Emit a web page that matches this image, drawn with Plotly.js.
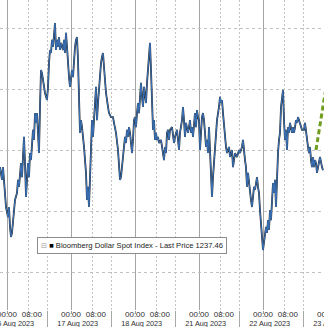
<!DOCTYPE html>
<html><head><meta charset="utf-8">
<script src="https://cdn.plot.ly/plotly-3.0.1.min.js"></script>
<style>html,body{margin:0;padding:0;overflow:hidden;background:#fff;width:324px;height:327px}#chart{width:340px;height:327px}</style>
</head><body><div id="chart"></div>
<script>
// Bloomberg Dollar Spot Index, intraday
const times = [
"2023-08-15 21:22:30","2023-08-15 22:07:30","2023-08-15 22:30","2023-08-15 23:15","2023-08-15 23:37:30",
"2023-08-16 00:22:30","2023-08-16 00:45","2023-08-16 01:07:30","2023-08-16 01:30","2023-08-16 01:52:30","2023-08-16 02:15","2023-08-16 02:37:30","2023-08-16 03:00","2023-08-16 03:45","2023-08-16 04:07:30","2023-08-16 04:30","2023-08-16 04:52:30","2023-08-16 05:15","2023-08-16 05:37:30","2023-08-16 06:00","2023-08-16 06:22:30","2023-08-16 06:45","2023-08-16 07:07:30","2023-08-16 07:30","2023-08-16 07:52:30","2023-08-16 08:15","2023-08-16 08:37:30","2023-08-16 09:00","2023-08-16 09:22:30","2023-08-16 09:45","2023-08-16 10:07:30","2023-08-16 10:30","2023-08-16 10:52:30","2023-08-16 11:15","2023-08-16 11:37:30","2023-08-16 12:00","2023-08-16 12:22:30","2023-08-16 12:45","2023-08-16 13:07:30","2023-08-16 13:30","2023-08-16 14:15","2023-08-16 15:00","2023-08-16 15:22:30","2023-08-16 15:45","2023-08-16 16:07:30","2023-08-16 16:30","2023-08-16 16:52:30","2023-08-16 17:15","2023-08-16 17:37:30","2023-08-16 18:00","2023-08-16 18:22:30","2023-08-16 18:45","2023-08-16 19:07:30","2023-08-16 19:30","2023-08-16 19:52:30","2023-08-16 20:15","2023-08-16 21:00","2023-08-16 21:22:30","2023-08-16 21:45","2023-08-16 22:07:30","2023-08-16 22:30","2023-08-16 22:52:30","2023-08-16 23:15","2023-08-16 23:37:30",
"2023-08-17 00:00","2023-08-17 00:22:30","2023-08-17 00:45","2023-08-17 01:07:30","2023-08-17 01:30","2023-08-17 01:52:30","2023-08-17 02:15","2023-08-17 02:37:30","2023-08-17 03:00","2023-08-17 03:22:30","2023-08-17 03:45","2023-08-17 04:07:30","2023-08-17 04:52:30","2023-08-17 05:37:30","2023-08-17 06:00","2023-08-17 06:22:30","2023-08-17 06:45","2023-08-17 07:07:30","2023-08-17 07:30","2023-08-17 07:52:30","2023-08-17 08:15","2023-08-17 08:37:30","2023-08-17 09:00","2023-08-17 09:22:30","2023-08-17 09:45","2023-08-17 10:07:30","2023-08-17 10:30","2023-08-17 10:52:30","2023-08-17 11:15","2023-08-17 11:37:30","2023-08-17 12:00","2023-08-17 12:22:30","2023-08-17 12:45","2023-08-17 13:07:30","2023-08-17 13:52:30","2023-08-17 14:15","2023-08-17 15:00","2023-08-17 15:45","2023-08-17 16:07:30","2023-08-17 16:52:30","2023-08-17 17:37:30","2023-08-17 18:00","2023-08-17 18:22:30","2023-08-17 18:45","2023-08-17 19:07:30","2023-08-17 19:30","2023-08-17 19:52:30","2023-08-17 20:15","2023-08-17 20:37:30","2023-08-17 21:00","2023-08-17 21:22:30","2023-08-17 21:45","2023-08-17 22:07:30","2023-08-17 22:30","2023-08-17 22:52:30","2023-08-17 23:15","2023-08-17 23:37:30",
"2023-08-18 00:00","2023-08-18 00:22:30","2023-08-18 00:45","2023-08-18 01:07:30","2023-08-18 01:30","2023-08-18 01:52:30","2023-08-18 02:15","2023-08-18 02:37:30","2023-08-18 03:00","2023-08-18 03:22:30","2023-08-18 03:45","2023-08-18 04:07:30","2023-08-18 04:30","2023-08-18 04:52:30","2023-08-18 05:15","2023-08-18 05:37:30","2023-08-18 06:00","2023-08-18 06:22:30","2023-08-18 06:45","2023-08-18 07:07:30","2023-08-18 07:30","2023-08-18 07:52:30","2023-08-18 08:15","2023-08-18 08:37:30","2023-08-18 09:00","2023-08-18 09:45","2023-08-18 10:07:30","2023-08-18 10:52:30","2023-08-18 11:15","2023-08-18 11:37:30","2023-08-18 12:00","2023-08-18 12:22:30","2023-08-18 12:45","2023-08-18 13:07:30","2023-08-18 13:52:30","2023-08-18 14:37:30","2023-08-18 15:00","2023-08-18 15:45","2023-08-18 16:30","2023-08-18 16:52:30","2023-08-18 17:37:30","2023-08-18 18:00","2023-08-18 18:22:30","2023-08-18 18:45","2023-08-18 19:07:30","2023-08-18 19:52:30","2023-08-18 20:15","2023-08-18 20:37:30","2023-08-18 21:00","2023-08-18 21:22:30","2023-08-18 21:45","2023-08-18 22:07:30","2023-08-18 22:30","2023-08-18 22:52:30","2023-08-18 23:15","2023-08-18 23:37:30",
"2023-08-21 00:00","2023-08-21 00:22:30","2023-08-21 00:45","2023-08-21 01:07:30","2023-08-21 01:30","2023-08-21 01:52:30","2023-08-21 02:15","2023-08-21 02:37:30","2023-08-21 03:00","2023-08-21 03:22:30","2023-08-21 03:45","2023-08-21 04:07:30","2023-08-21 04:30","2023-08-21 04:52:30","2023-08-21 05:15","2023-08-21 05:37:30","2023-08-21 06:00","2023-08-21 06:22:30","2023-08-21 06:45","2023-08-21 07:30","2023-08-21 07:52:30","2023-08-21 08:15","2023-08-21 08:37:30","2023-08-21 09:00","2023-08-21 09:22:30","2023-08-21 09:45","2023-08-21 10:07:30","2023-08-21 10:30","2023-08-21 11:15","2023-08-21 11:37:30","2023-08-21 12:22:30","2023-08-21 12:45","2023-08-21 13:07:30","2023-08-21 13:30","2023-08-21 14:15","2023-08-21 15:00","2023-08-21 15:22:30","2023-08-21 16:07:30","2023-08-21 16:30","2023-08-21 16:52:30","2023-08-21 17:15","2023-08-21 17:37:30","2023-08-21 18:00","2023-08-21 18:22:30","2023-08-21 18:45","2023-08-21 19:07:30","2023-08-21 19:30","2023-08-21 19:52:30","2023-08-21 20:15","2023-08-21 20:37:30","2023-08-21 21:00","2023-08-21 21:22:30","2023-08-21 21:45","2023-08-21 22:07:30","2023-08-21 22:30","2023-08-21 22:52:30","2023-08-21 23:15","2023-08-21 23:37:30",
"2023-08-22 00:00","2023-08-22 00:22:30","2023-08-22 00:45","2023-08-22 01:07:30","2023-08-22 01:30","2023-08-22 01:52:30","2023-08-22 02:15","2023-08-22 02:37:30","2023-08-22 03:00","2023-08-22 03:22:30","2023-08-22 03:45","2023-08-22 04:07:30","2023-08-22 04:30","2023-08-22 04:52:30","2023-08-22 05:15","2023-08-22 05:37:30","2023-08-22 06:00","2023-08-22 06:22:30","2023-08-22 06:45","2023-08-22 07:07:30","2023-08-22 07:30","2023-08-22 07:52:30","2023-08-22 08:15","2023-08-22 08:37:30","2023-08-22 09:00","2023-08-22 09:22:30","2023-08-22 09:45","2023-08-22 10:07:30","2023-08-22 10:30","2023-08-22 10:52:30","2023-08-22 11:15","2023-08-22 11:37:30","2023-08-22 12:00","2023-08-22 12:22:30","2023-08-22 12:45","2023-08-22 13:07:30","2023-08-22 14:37:30","2023-08-22 15:22:30","2023-08-22 15:45","2023-08-22 16:07:30","2023-08-22 16:30","2023-08-22 16:52:30","2023-08-22 17:15","2023-08-22 17:37:30","2023-08-22 18:00","2023-08-22 18:22:30","2023-08-22 18:45","2023-08-22 19:07:30","2023-08-22 19:30","2023-08-22 19:52:30","2023-08-22 20:15","2023-08-22 20:37:30","2023-08-22 21:00","2023-08-22 21:22:30","2023-08-22 22:07:30","2023-08-22 22:30"
];
const lastPrice = [
1237.44,1237.02,1237.44,1236.69,1236.13,
1235.80,1236.13,1235.48,1235.15,1235.28,1235.70,1235.93,1236.36,1236.59,1237.02,1236.79,1237.25,1237.57,1237.11,1238.10,1238.43,1237.57,1236.46,1237.02,1237.57,1237.11,1237.90,1237.67,1238.33,1238.66,1238.33,1239.21,1238.89,1239.21,1238.56,1237.90,1239.41,1240.62,1240.52,1240.30,1239.87,1239.64,1240.07,1240.85,1241.28,1241.18,1241.61,1241.38,1241.84,1242.16,1241.28,1241.61,1241.38,1241.70,1241.28,1241.51,1241.28,1241.61,1241.18,1241.84,1241.38,1240.72,1240.39,1240.07,
1240.30,1240.62,1240.39,1241.05,1241.38,1241.61,1241.70,1240.95,1239.54,1238.56,1238.98,1238.75,1238.10,1237.25,1236.36,1236.79,1236.13,1237.02,1238.10,1238.98,1238.43,1239.31,1239.54,1240.07,1238.98,1239.54,1240.07,1240.52,1240.85,1241.05,1241.18,1240.72,1240.30,1239.87,1239.41,1239.21,1239.08,1239.08,1238.89,1238.56,1238.00,1237.57,1237.02,1237.11,1237.57,1237.77,1238.10,1238.43,1238.23,1238.66,1238.43,1238.75,1238.56,1238.10,1237.90,1238.33,1238.98,
1239.08,1238.75,1239.21,1239.54,1239.21,1239.97,1240.20,1239.74,1239.41,1240.07,1239.87,1239.54,1240.20,1240.62,1241.18,1241.51,1240.62,1239.54,1238.66,1238.98,1238.33,1238.56,1238.33,1238.43,1238.23,1238.33,1238.10,1237.67,1238.10,1237.90,1238.56,1238.66,1238.33,1238.66,1238.75,1238.23,1238.43,1238.66,1238.00,1238.56,1238.98,1239.41,1238.98,1238.43,1238.89,1238.56,1238.75,1238.98,1238.56,1238.75,1238.43,1238.98,1239.21,1238.75,1239.31,1239.08,
1238.98,1238.00,1238.56,1239.08,1239.21,1238.98,1238.56,1238.10,1238.33,1237.90,1238.75,1238.10,1237.34,1236.46,1237.11,1237.57,1238.10,1238.66,1238.98,1239.41,1239.74,1239.54,1239.64,1239.21,1238.75,1238.33,1238.10,1237.90,1238.10,1237.77,1238.00,1237.44,1237.77,1237.90,1237.77,1238.00,1237.90,1238.10,1238.33,1237.90,1237.67,1237.44,1236.79,1237.25,1236.92,1236.46,1236.36,1236.13,1236.59,1236.79,1236.69,1236.92,1237.11,1236.79,1236.59,1236.03,1235.70,1235.15,
1234.72,1235.05,1235.28,1235.48,1235.28,1235.70,1235.38,1236.03,1235.70,1236.36,1236.92,1236.59,1237.02,1236.13,1237.11,1237.90,1238.33,1238.56,1239.41,1239.74,1239.97,1238.98,1238.33,1238.66,1238.00,1238.75,1238.56,1238.89,1238.66,1238.56,1238.75,1238.56,1238.75,1238.98,1238.89,1239.08,1238.66,1238.66,1238.89,1238.56,1238.33,1238.10,1237.90,1238.10,1237.67,1237.44,1237.77,1237.44,1237.67,1237.57,1237.25,1237.44,1237.67,1237.77,1237.44,1237.34
];
// green dashed "higher" arrow drawn on the chart
const arrowTimes = ["2023-08-22 19:52:30", "2023-08-22 23:37:30"];
const arrowValues = [1238.00, 1240.05];

const days = ["2023-08-16","2023-08-17","2023-08-18","2023-08-21","2023-08-22","2023-08-23"];
const dateLabels = ["16 Aug 2023","17 Aug 2023","18 Aug 2023","21 Aug 2023","22 Aug 2023","23 Aug 2023"];
const hourLabels = ["00:00","08:00"];
const yGrid = [1234, 1236, 1238, 1240, 1242];
const legendText = "Bloomberg Dollar Spot Index - Last Price 1237.46";

const font = {family: '"Liberation Sans", Arial, sans-serif', size: 8, color: '#2e2e2e'};
const dateFont = {family: font.family, size: 7.3, color: '#2e2e2e'};
const rb = [{bounds: ['sat', 'mon']}];
const xRange = ['2023-08-15 21:22:30', '2023-08-23 04:52:30'];

const baseX = {type: 'date', range: xRange, rangebreaks: rb, fixedrange: true, zeroline: false,
  showline: false, tickfont: font, tickmode: 'array', ticklabeloverflow: 'allow'};

// helper traces (invisible) so the overlaid label axes get drawn
const axisCarrier = ax => ({x: times, y: lastPrice, xaxis: ax, yaxis: 'y', type: 'scatter', mode: 'lines',
  line: {width: 0, color: 'rgba(0,0,0,0)'}, opacity: 0, hoverinfo: 'skip', showlegend: false});

const traces = [
  axisCarrier('x2'), axisCarrier('x3'), axisCarrier('x4'),
  {x: times, y: lastPrice, type: 'scatter', mode: 'lines', line: {color: '#2b2b2b', width: 1.8}, hoverinfo: 'skip', showlegend: false},
  {x: times, y: lastPrice, type: 'scatter', mode: 'lines', line: {color: '#3a74bd', width: 1}, hoverinfo: 'skip', showlegend: false},
  {x: arrowTimes, y: arrowValues, type: 'scatter', mode: 'lines', line: {color: '#6f9e1f', width: 3, dash: '5px,3px'}, hoverinfo: 'skip', showlegend: false}
];

const layout = {
  width: 340, height: 327, autosize: false,
  margin: {l: 0, r: 0, t: 0, b: 17, pad: 0},
  paper_bgcolor: '#fff', plot_bgcolor: '#fff',
  showlegend: false,
  xaxis: Object.assign({}, baseX, {
    tickvals: days.map(d => d + ' 00:00'), ticktext: days.map(() => hourLabels[0]),
    showgrid: true, gridcolor: '#a4a4a4', gridwidth: 1,
    ticks: 'outside', ticklen: 2, tickcolor: '#999', ticklabelstandoff: -6,
    minor: {tickmode: 'array', tickvals: days.flatMap(d => [d + ' 08:00', d + ' 15:00']),
      showgrid: true, gridcolor: '#c2c2c2', griddash: '2px,2px', gridwidth: 1,
      ticks: 'outside', ticklen: 2, tickcolor: '#999'}
  }),
  xaxis2: Object.assign({}, baseX, {
    overlaying: 'x', anchor: 'y', side: 'bottom',
    tickvals: days.map(d => d + ' 09:20'), ticktext: days.map(() => hourLabels[1]),
    showgrid: false, ticks: 'outside', ticklen: 2, tickcolor: 'rgba(0,0,0,0)', ticklabelstandoff: -6
  }),
  xaxis3: Object.assign({}, baseX, {
    overlaying: 'x', anchor: 'y', side: 'bottom', tickfont: dateFont,
    tickvals: days.map(d => d + ' 02:30'), ticktext: dateLabels,
    showgrid: false, ticks: 'outside', ticklen: 2, tickcolor: 'rgba(0,0,0,0)', ticklabelstandoff: 4
  }),
  xaxis4: Object.assign({}, baseX, {
    overlaying: 'x', anchor: 'y', side: 'bottom',
    tickvals: days.map(d => d + ' 15:00'), showticklabels: false,
    showgrid: false, ticks: 'outside', ticklen: 17, tickcolor: '#a8a8a8'
  }),
  yaxis: {range: [1232.754, 1242.918], tickmode: 'array', tickvals: yGrid, showticklabels: false,
    showgrid: true, gridcolor: '#c2c2c2', griddash: '3px,3px', zeroline: false, ticks: '', fixedrange: true, showline: false},
  annotations: [{
    xref: 'paper', yref: 'paper', x: 37 / 340, y: 1 - 245 / 310, xanchor: 'left', yanchor: 'middle',
    text: '<span style="color:#a0a0a0;font-size:7px">⊟</span> <span style="color:#000">■</span> ' + legendText,
    showarrow: false, font: {family: font.family, size: 7.6, color: '#222'},
    bgcolor: '#fff', bordercolor: '#8c8c8c', borderwidth: 1, borderpad: 3
  }]
};

Plotly.newPlot('chart', traces, layout, {displayModeBar: false, staticPlot: true});
</script>
</body></html>
